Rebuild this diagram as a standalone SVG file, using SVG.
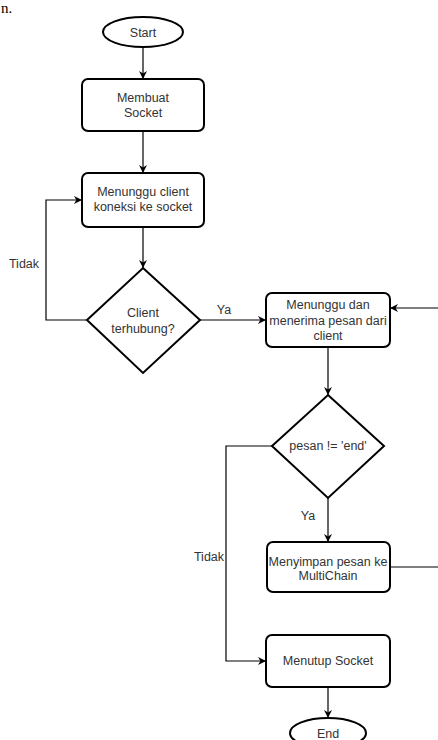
<svg xmlns="http://www.w3.org/2000/svg" width="438" height="740" viewBox="0 0 438 740">
<style>
.shape{fill:#fff;stroke:#000;stroke-width:2}
.conn{fill:none;stroke:#000;stroke-width:1.2}
text{font-family:"Liberation Sans",Arial,sans-serif;font-size:12.5px;fill:#333;text-anchor:middle}
</style>
<defs>
<marker id="arr" viewBox="0 0 10 10" refX="10" refY="5" markerWidth="8" markerHeight="8" markerUnits="userSpaceOnUse" orient="auto">
<path d="M0,0 L10,5 L0,10 L3,5 Z" fill="#000"/>
</marker>
</defs>
<rect width="438" height="740" fill="#fff"/>
<text x="1" y="13" style="font-family:'Liberation Serif',serif;font-size:15px;fill:#000;text-anchor:start">n.</text>
<g id="connectors">
<path class="conn" d="M143,48 V79" marker-end="url(#arr)"/>
<path class="conn" d="M143,131 V173" marker-end="url(#arr)"/>
<path class="conn" d="M143,227 V268" marker-end="url(#arr)"/>
<path class="conn" d="M87,320 H46 V200 H82" marker-end="url(#arr)"/>
<path class="conn" d="M200,320 H266" marker-end="url(#arr)"/>
<path class="conn" d="M328,347 V395" marker-end="url(#arr)"/>
<path class="conn" d="M328,498 V542" marker-end="url(#arr)"/>
<path class="conn" d="M390,567 H446 V308 H390" marker-end="url(#arr)"/>
<path class="conn" d="M272,446 H226 V661 H266" marker-end="url(#arr)"/>
<path class="conn" d="M328,687 V718" marker-end="url(#arr)"/>
<text x="24" y="268">Tidak</text>
<text x="224" y="314">Ya</text>
<text x="308" y="520">Ya</text>
<text x="209" y="561">Tidak</text>
</g>
<g id="start">
<ellipse class="shape" cx="143" cy="32" rx="40" ry="15"/>
<text x="143" y="36.5">Start</text>
</g>
<g id="membuat-socket">
<rect class="shape" x="82" y="79" width="122" height="52" rx="6"/>
<text x="143" y="102">Membuat</text>
<text x="143" y="117">Socket</text>
</g>
<g id="menunggu-client">
<rect class="shape" x="82" y="173" width="122" height="54" rx="6"/>
<text x="143" y="196">Menunggu client</text>
<text x="143" y="211">koneksi ke socket</text>
</g>
<g id="client-terhubung">
<polygon class="shape" points="143,268 200,320 143,373 87,320"/>
<text x="143" y="317">Client</text>
<text x="143" y="333">terhubung?</text>
</g>
<g id="menunggu-pesan">
<rect class="shape" x="266" y="293" width="124" height="54" rx="6"/>
<text x="328" y="309">Menunggu dan</text>
<text x="328" y="325">menerima pesan dari</text>
<text x="328" y="340">client</text>
</g>
<g id="pesan-end">
<polygon class="shape" points="328,395 384,446 328,498 272,446"/>
<text x="328" y="450">pesan != 'end'</text>
</g>
<g id="menyimpan-pesan">
<rect class="shape" x="267" y="542" width="123" height="50" rx="6"/>
<text x="328" y="566">Menyimpan pesan ke</text>
<text x="328" y="580">MultiChain</text>
</g>
<g id="menutup-socket">
<rect class="shape" x="266" y="635" width="124" height="52" rx="6"/>
<text x="328" y="665">Menutup Socket</text>
</g>
<g id="end">
<ellipse class="shape" cx="328" cy="733" rx="38" ry="15"/>
<text x="328" y="738">End</text>
</g>
</svg>
